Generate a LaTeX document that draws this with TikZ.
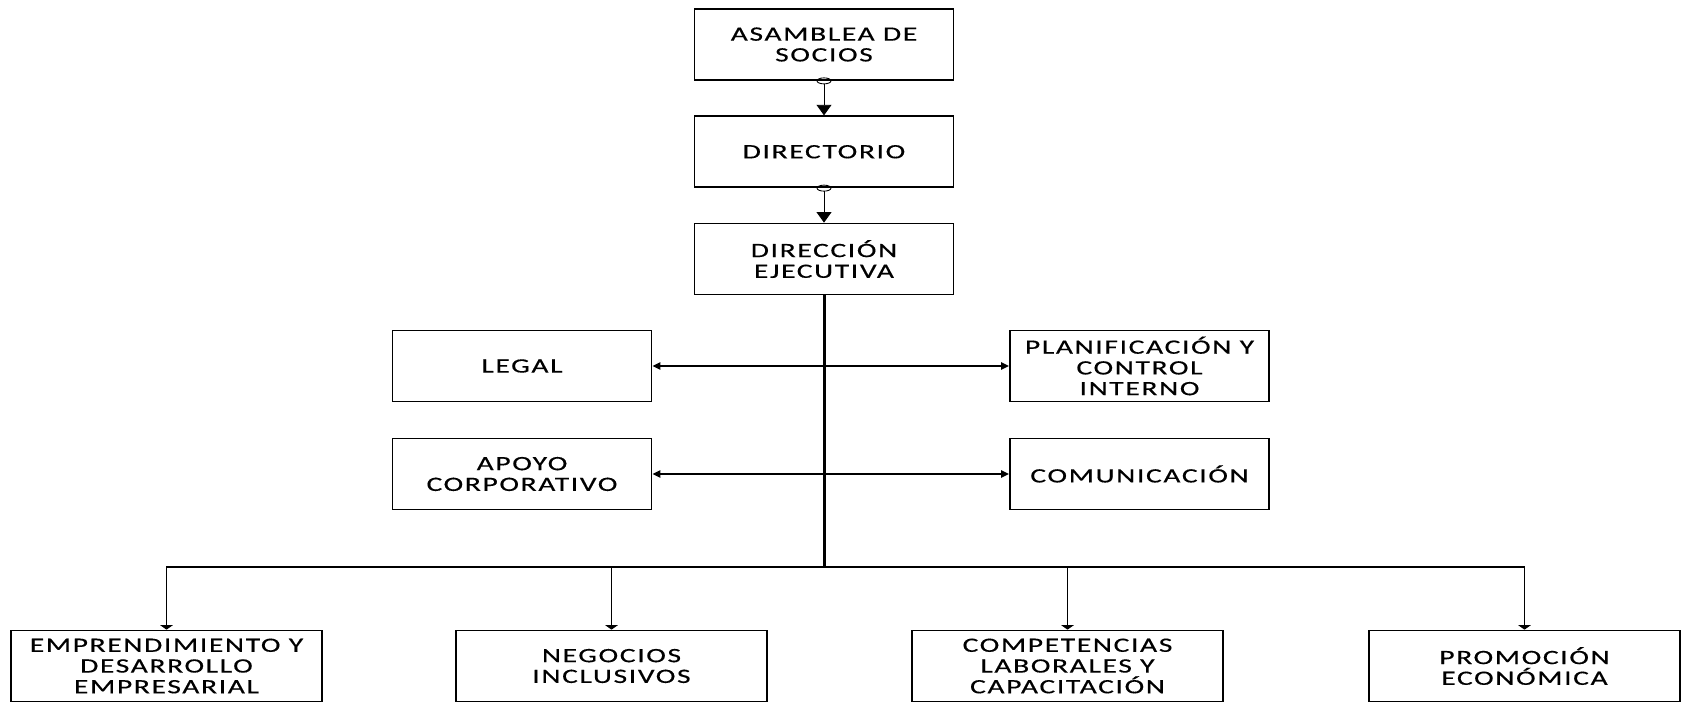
\documentclass[tikz,border=0pt]{standalone}
\usepackage{fontspec}
\usepackage{tikz}
\usetikzlibrary{arrows.meta,positioning}
\newfontfamily\orgfont{Carlito}[FakeStretch=1.45,LetterSpace=8,FakeBold=0.4]
\definecolor{orgline}{RGB}{0,0,0}
\tikzstyle{unit} = [rectangle, draw=orgline, line width=1pt, minimum width=5.18cm, minimum height=1.42cm, text centered, align=center, inner sep=2pt, font={\orgfont\fontsize{11.6}{11.8}\selectfont}]
\tikzstyle{wideunit} = [unit, minimum width=6.22cm]
\tikzstyle{link} = [line width=0.5pt, color=orgline, -{Triangle[length=6pt,width=8.5pt]}]
\tikzstyle{trunk} = [line width=1.7pt, color=orgline]
\tikzstyle{side} = [line width=1pt, color=orgline, {Triangle[length=4.5pt,width=4pt]}-{Triangle[length=4.5pt,width=4pt]}]
\tikzstyle{drop} = [line width=1pt, color=orgline, -{Triangle[length=2.5pt,width=7pt]}]

\begin{document}
\begin{tikzpicture}
\useasboundingbox (0,0) rectangle (33.64,-14.08);
% Governing chain
\node (asamblea) [unit] at (16.48,-0.89) {ASAMBLEA DE\\SOCIOS};
\node (directorio) [unit, below=0.69cm of asamblea] {DIRECTORIO};
\node (direccion) [unit, below=0.69cm of directorio] {DIRECCIÓN\\EJECUTIVA};

% Staff units
\node (legal) [unit] at (10.44,-7.32) {LEGAL};
\node (planif) [unit] at (22.79,-7.32) {PLANIFICACIÓN Y\\CONTROL\\INTERNO};
\node (apoyo) [unit] at (10.44,-9.48) {APOYO\\CORPORATIVO};
\node (comunic) [unit] at (22.79,-9.48) {COMUNICACIÓN};

% Line units
\node (empren) [wideunit] at (3.33,-13.32) {EMPRENDIMIENTO Y\\DESARROLLO\\EMPRESARIAL};
\node (negocios) [wideunit] at (12.23,-13.32) {NEGOCIOS\\INCLUSIVOS};
\node (compet) [wideunit] at (21.35,-13.32) {COMPETENCIAS\\LABORALES Y\\CAPACITACIÓN};
\node (promo) [wideunit] at (30.49,-13.32) {PROMOCIÓN\\ECONÓMICA};

\draw[line width=0.5pt] (asamblea.south) ellipse (0.14 and 0.06);
\draw[line width=0.5pt] (directorio.south) ellipse (0.14 and 0.06);
\draw[link] ([yshift=-0.06cm]asamblea.south) -- (directorio.north);
\draw[link] ([yshift=-0.06cm]directorio.south) -- (direccion.north);

\coordinate (hub) at (16.48,-11.34);
\draw[trunk] (direccion.south) -- (hub);
\draw[side] (legal) -- (planif);
\draw[side] (apoyo) -- (comunic);

\draw[drop] (hub) -| (empren);
\draw[drop] (hub) -| (negocios);
\draw[drop] (hub) -| (compet);
\draw[drop] (hub) -| (promo);
\end{tikzpicture}
\end{document}
